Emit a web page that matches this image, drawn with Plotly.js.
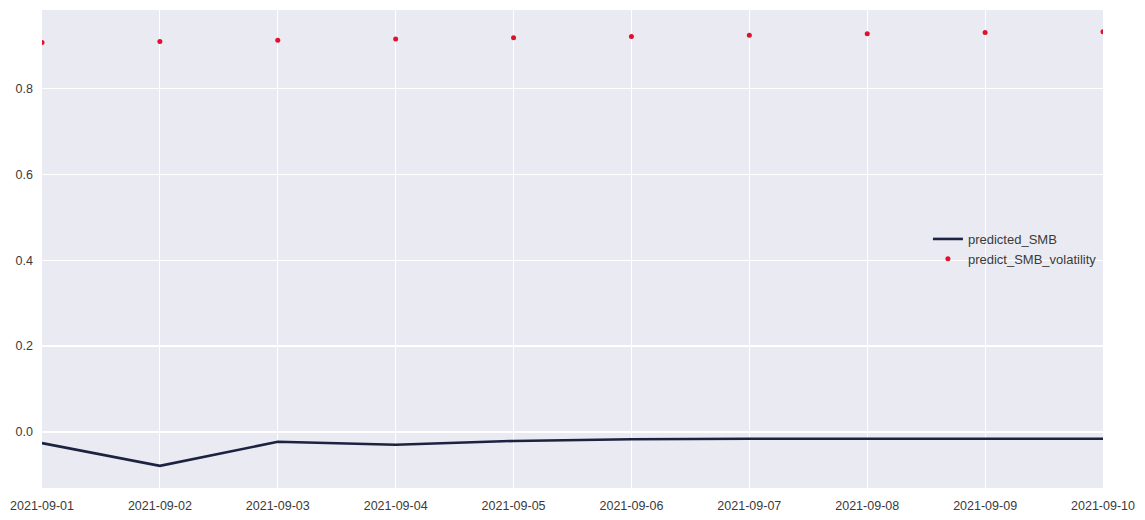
<!DOCTYPE html>
<html>
<head>
<meta charset="utf-8">
<script src="https://cdn.plot.ly/plotly-3.0.1.min.js"></script>
<style>html,body{margin:0;padding:0;background:#fff;}#chart{width:1145px;height:520px;}</style>
</head>
<body>
<div id="chart"></div>
<script>
const dates = ["2021-09-01","2021-09-02","2021-09-03","2021-09-04","2021-09-05","2021-09-06","2021-09-07","2021-09-08","2021-09-09","2021-09-10"];
const predictedSMB = [-0.026, -0.079, -0.023, -0.030, -0.021, -0.017, -0.016, -0.016, -0.016, -0.016];
const predictVolatility = [0.907, 0.909, 0.912, 0.915, 0.918, 0.921, 0.924, 0.927, 0.930, 0.932];
const yTicks = [0.0, 0.2, 0.4, 0.6, 0.8];
const yTickText = ["0.0", "0.2", "0.4", "0.6", "0.8"];

const font = {family: "'Liberation Sans', Arial, sans-serif", size: 12.5, color: "#3a3a3a"};

const traces = [
  {x: dates, y: predictedSMB, type: "scatter", mode: "lines", name: "predicted_SMB",
   line: {color: "#1c2340", width: 2.6}},
  {x: dates, y: predictVolatility, type: "scatter", mode: "markers", name: "predict_SMB_volatility",
   marker: {color: "#e0102e", size: 5}}
];

const layout = {
  width: 1145, height: 520,
  margin: {l: 42, r: 42, t: 10, b: 32},
  paper_bgcolor: "#ffffff",
  plot_bgcolor: "#eaeaf2",
  font: font,
  showlegend: true,
  legend: {x: 0.835, y: 0.5, xanchor: "left", yanchor: "middle", bgcolor: "rgba(0,0,0,0)",
           font: {family: font.family, size: 13, color: "#3a3a3a"}, tracegroupgap: 0},
  xaxis: {type: "date", range: ["2021-09-01", "2021-09-10"], tickvals: dates, ticktext: dates,
          showgrid: true, gridcolor: "#ffffff", gridwidth: 1.2, zeroline: false, showline: false,
          ticks: "", ticklabelstandoff: 8, tickfont: font},
  yaxis: {range: [-0.1306, 0.9826], tickvals: yTicks, ticktext: yTickText,
          showgrid: true, gridcolor: "#ffffff", gridwidth: 1.2, zeroline: false, showline: false,
          ticks: "", ticklabelstandoff: 8, tickfont: font}
};

Plotly.newPlot("chart", traces, layout, {displayModeBar: false, staticPlot: true});
</script>
</body>
</html>
